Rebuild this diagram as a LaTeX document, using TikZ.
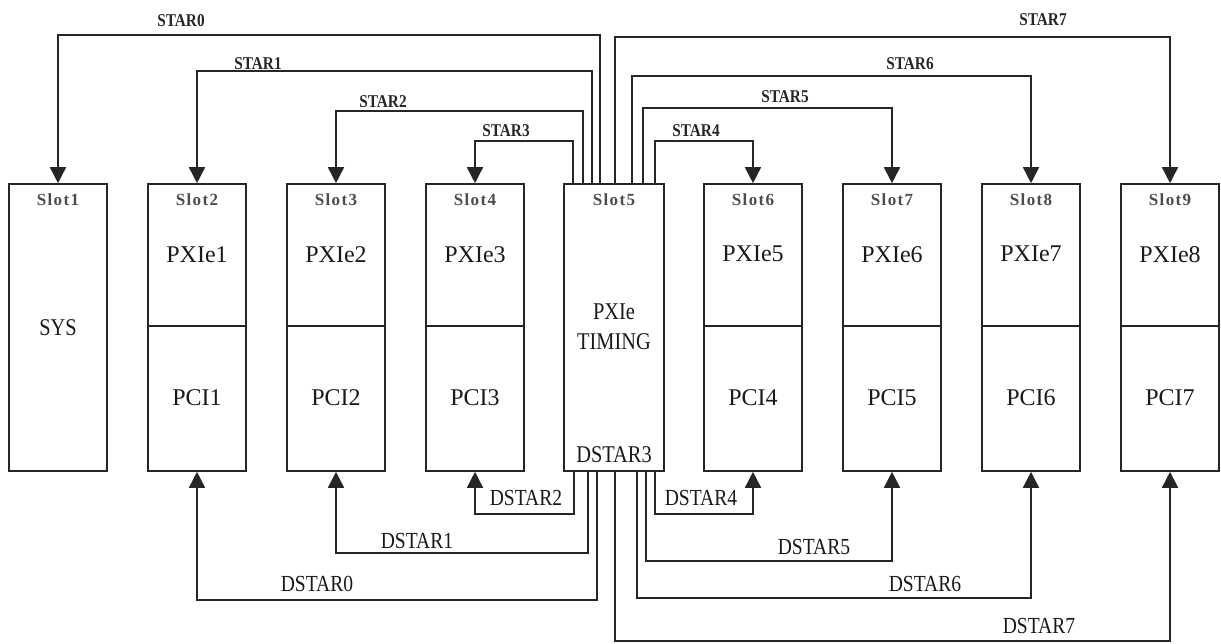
\documentclass[tikz,border=0pt]{standalone}
\usepackage{fontspec}
\setmainfont{Liberation Serif}[FakeStretch=0.85]
\newfontfamily\widefont{Liberation Serif}
\newfontfamily\slotfont{Liberation Serif}[LetterSpace=8]
\usetikzlibrary{arrows.meta}
\begin{document}
\begin{tikzpicture}[x=1pt,y=-1pt,
  slotbox/.style={draw=black!85,line width=1.6pt,minimum width=98pt,minimum height=287pt,inner sep=0pt},
  divider/.style={draw=black!85,line width=2pt},
  conn/.style={draw=black!85,line width=1.6pt,-{Triangle[length=16pt,width=16pt]}},
  slotlbl/.style={font=\slotfont\bfseries\fontsize{17}{17}\selectfont,text=black!70},
  boxtxt/.style={font=\fontsize{24}{30}\selectfont,text=black!90,align=center},
  widetxt/.style={font=\widefont\fontsize{24}{30}\selectfont,text=black!90},
  starlbl/.style={font=\bfseries\fontsize{18}{18}\selectfont,text=black!85},
  dstarlbl/.style={font=\fontsize{23}{23}\selectfont,text=black!90}]
\useasboundingbox (0,0) rectangle (1221,644);
% slots
\node[slotbox] (s1) at (58,327.5) {};
\node[slotbox] (s2) at (197,327.5) {};
\node[slotbox] (s3) at (336,327.5) {};
\node[slotbox] (s4) at (475,327.5) {};
\node[slotbox,minimum width=100pt] (s5) at (614,327.5) {};
\node[slotbox] (s6) at (753,327.5) {};
\node[slotbox] (s7) at (892,327.5) {};
\node[slotbox] (s8) at (1031,327.5) {};
\node[slotbox] (s9) at (1170,327.5) {};
% dividers
\foreach \s in {s2,s3,s4,s6,s7,s8,s9} {\draw[divider] ([yshift=1.5pt]\s.west) -- ([yshift=1.5pt]\s.east);}
% slot labels
\node[slotlbl] (l1) at ([yshift=-16pt]s1.north) {Slot1};
\node[slotlbl] (l2) at ([yshift=-16pt]s2.north) {Slot2};
\node[slotlbl] (l3) at ([yshift=-16pt]s3.north) {Slot3};
\node[slotlbl] (l4) at ([yshift=-16pt]s4.north) {Slot4};
\node[slotlbl] (l5) at ([yshift=-16pt]s5.north) {Slot5};
\node[slotlbl] (l6) at ([yshift=-16pt]s6.north) {Slot6};
\node[slotlbl] (l7) at ([yshift=-16pt]s7.north) {Slot7};
\node[slotlbl] (l8) at ([yshift=-16pt]s8.north) {Slot8};
\node[slotlbl] (l9) at ([yshift=-16pt]s9.north) {Slot9};
% box texts
\node[boxtxt] (sys) at (s1.center) {SYS};
\node[widetxt] (p1) at ([yshift=-71pt]s2.north) {PXIe1};
\node[widetxt] (p2) at ([yshift=-71pt]s3.north) {PXIe2};
\node[widetxt] (p3) at ([yshift=-71pt]s4.north) {PXIe3};
\node[widetxt] (p5) at ([yshift=-71pt]s6.north) {PXIe5};
\node[widetxt] (p6) at ([yshift=-71pt]s7.north) {PXIe6};
\node[widetxt] (p7) at ([yshift=-71pt]s8.north) {PXIe7};
\node[widetxt] (p8) at ([yshift=-71pt]s9.north) {PXIe8};
\node[widetxt] (c1) at ([yshift=-214pt]s2.north) {PCI1};
\node[widetxt] (c2) at ([yshift=-214pt]s3.north) {PCI2};
\node[widetxt] (c3) at ([yshift=-214pt]s4.north) {PCI3};
\node[widetxt] (c4) at ([yshift=-214pt]s6.north) {PCI4};
\node[widetxt] (c5) at ([yshift=-214pt]s7.north) {PCI5};
\node[widetxt] (c6) at ([yshift=-214pt]s8.north) {PCI6};
\node[widetxt] (c7) at ([yshift=-214pt]s9.north) {PCI7};
\node[boxtxt] (tim) at ([yshift=1pt]s5.center) {PXIe\\TIMING};
\node[boxtxt] (ds3) at ([yshift=17pt]s5.south) {DSTAR3};
% STAR connectors (top)
\draw[conn] ([xshift=-14pt]s5.north) -- ++(0,-148) -| (s1.north);
\draw[conn] ([xshift=-22pt]s5.north) -- ++(0,-112) -| (s2.north);
\draw[conn] ([xshift=-31pt]s5.north) -- ++(0,-72) -| (s3.north);
\draw[conn] ([xshift=-41pt]s5.north) -- ++(0,-42) -| (s4.north);
\draw[conn] ([xshift=41pt]s5.north) -- ++(0,-42) -| (s6.north);
\draw[conn] ([xshift=29pt]s5.north) -- ++(0,-75) -| (s7.north);
\draw[conn] ([xshift=18pt]s5.north) -- ++(0,-107) -| (s8.north);
\draw[conn] ([xshift=1pt]s5.north) -- ++(0,-146) -| (s9.north);
% DSTAR connectors (bottom)
\draw[conn] ([xshift=-40pt]s5.south) -- ++(0,42) -| (s4.south);
\draw[conn] ([xshift=-26pt]s5.south) -- ++(0,81) -| (s3.south);
\draw[conn] ([xshift=-17pt]s5.south) -- ++(0,128) -| (s2.south);
\draw[conn] ([xshift=41pt]s5.south) -- ++(0,42) -| (s6.south);
\draw[conn] ([xshift=32pt]s5.south) -- ++(0,89) -| (s7.south);
\draw[conn] ([xshift=23pt]s5.south) -- ++(0,126) -| (s8.south);
\draw[conn] ([xshift=1pt]s5.south) -- ++(0,169) -| (s9.south);
% labels
\node[starlbl] (L0) at (181,21) {STAR0};
\node[starlbl] (L1) at (258,64) {STAR1};
\node[starlbl] (L2) at (383,102) {STAR2};
\node[starlbl] (L3) at (506,131) {STAR3};
\node[starlbl] (L4) at (696,131) {STAR4};
\node[starlbl] (L5) at (785,97) {STAR5};
\node[starlbl] (L6) at (910,64) {STAR6};
\node[starlbl] (L7) at (1043,20) {STAR7};
\node[dstarlbl] (D0) at (317,584) {DSTAR0};
\node[dstarlbl] (D1) at (417,541) {DSTAR1};
\node[dstarlbl] (D2) at (526,498) {DSTAR2};
\node[dstarlbl] (D4) at (701,498) {DSTAR4};
\node[dstarlbl] (D5) at (814,547) {DSTAR5};
\node[dstarlbl] (D6) at (925,584) {DSTAR6};
\node[dstarlbl] (D7) at (1039,626) {DSTAR7};
\end{tikzpicture}
\end{document}
